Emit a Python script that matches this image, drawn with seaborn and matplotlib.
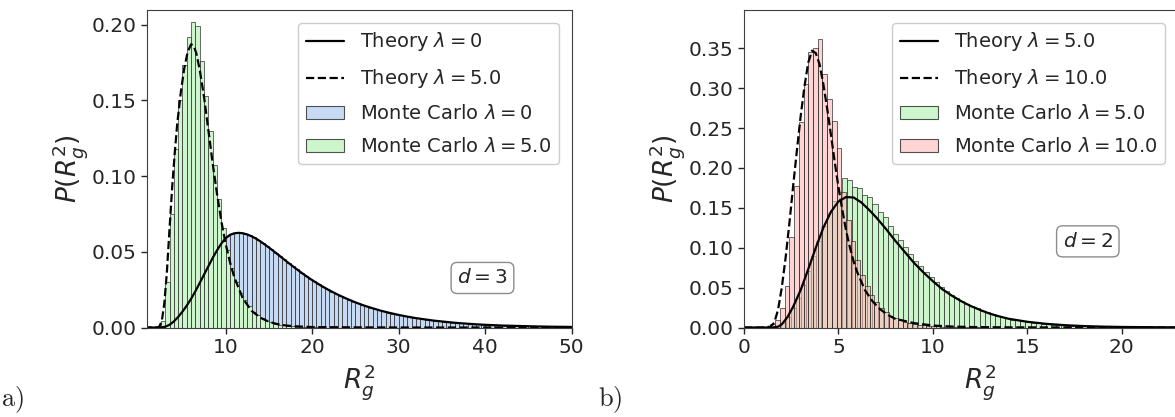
import numpy as np
import seaborn as sns
import matplotlib.pyplot as plt
from matplotlib.lines import Line2D
from matplotlib.patches import Patch

# ---- panel a (d = 3) ----
a_bin_start = 2.5
a_bin_width = 0.5
# Monte Carlo lambda = 0 (blue), bins of 0.5 from 2.5
mc_a_lam0 = [0.0003, 0.001, 0.003, 0.0055, 0.0088, 0.0125, 0.0168, 0.0215, 0.0268, 0.0322,
             0.0378, 0.0432, 0.0485, 0.0533, 0.0573, 0.0602, 0.0618, 0.0625, 0.0624, 0.0618,
             0.0608, 0.0595, 0.0578, 0.0559, 0.0538, 0.0517, 0.0495, 0.0472, 0.0450, 0.0427,
             0.0405, 0.0383, 0.0362, 0.0342, 0.0322, 0.0304, 0.0286, 0.0268, 0.0252, 0.0237,
             0.0222, 0.0208, 0.0195, 0.0183, 0.0171, 0.0160, 0.0150, 0.0140, 0.0131, 0.0122,
             0.0114, 0.0106, 0.0099, 0.0092, 0.0086, 0.0080, 0.0075, 0.0069, 0.0064, 0.0060,
             0.0056, 0.0052, 0.0048, 0.0045, 0.0042, 0.0039, 0.0036, 0.0033, 0.0031, 0.0029,
             0.0027, 0.0025, 0.0023, 0.0021, 0.0019, 0.0018, 0.0017, 0.0015, 0.0014, 0.0013,
             0.0012, 0.0011, 0.0010, 0.0010, 0.0009, 0.0008, 0.0008, 0.0007, 0.0007, 0.0006,
             0.0006, 0.0005, 0.0005, 0.0005, 0.0004]
# Monte Carlo lambda = 5 (green), same bins
mc_a_lam5 = [0.004, 0.030, 0.075, 0.118, 0.150, 0.173, 0.192, 0.2015, 0.199, 0.176,
             0.153, 0.130, 0.107, 0.085, 0.066, 0.051, 0.039, 0.030, 0.023, 0.018,
             0.014, 0.0105, 0.008, 0.006, 0.0045, 0.0034, 0.0025, 0.0019, 0.0014, 0.001,
             0.0008, 0.0006, 0.0004, 0.0003, 0.0002, 0.0002, 0.0001, 0.0001]

theory_a_lam0_x = [0.5, 2.0, 2.5, 3.0, 3.5, 4.0, 4.5, 5.0, 5.5, 6.0, 6.5, 7.0, 7.5, 8.0, 8.5, 9.0,
                   9.5, 10.0, 10.5, 11.0, 11.5, 12.0, 12.5, 13.0, 13.5, 14.0, 14.5, 15.0, 15.5,
                   16.0, 16.5, 17.0, 17.5, 18.0, 18.5, 19.0, 19.5, 20.0, 21, 22, 23, 24, 25, 26,
                   27, 28, 29, 30, 31, 32, 33, 34, 35, 36, 37, 38, 39, 40, 42, 44, 46, 48, 50]
theory_a_lam0_y = [0.0, 0.0, 0.0001, 0.0005, 0.0018, 0.004, 0.007, 0.0105, 0.0145, 0.019, 0.024,
                   0.0295, 0.035, 0.0405, 0.046, 0.051, 0.0555, 0.059, 0.0612, 0.0622, 0.0625,
                   0.0622, 0.0614, 0.0602, 0.0587, 0.0569, 0.0549, 0.0528, 0.0506, 0.0484, 0.0461,
                   0.0438, 0.0416, 0.0394, 0.0373, 0.0352, 0.0332, 0.0313, 0.0277, 0.0245, 0.0216,
                   0.0190, 0.0166, 0.0145, 0.0127, 0.0110, 0.0096, 0.0083, 0.0072, 0.0062, 0.0054,
                   0.0046, 0.0040, 0.0034, 0.0029, 0.0025, 0.0021, 0.0018, 0.0013, 0.0010, 0.0007,
                   0.0005, 0.0004]
theory_a_lam5_x = [0.5, 2.0, 2.3, 2.6, 2.9, 3.2, 3.5, 3.8, 4.1, 4.4, 4.8, 5.2, 5.6, 6.0, 6.3, 6.6,
                   7.0, 7.5, 8.0, 8.5, 9.0, 9.5, 10.0, 10.5, 11, 12, 13, 14, 15, 16, 17, 18, 20,
                   25, 30, 50]
theory_a_lam5_y = [0.0, 0.0, 0.0005, 0.004, 0.016, 0.037, 0.065, 0.092, 0.115, 0.135, 0.155,
                   0.171, 0.182, 0.187, 0.186, 0.181, 0.170, 0.152, 0.130, 0.108, 0.088, 0.070,
                   0.055, 0.043, 0.033, 0.019, 0.011, 0.0065, 0.0038, 0.0022, 0.0013, 0.0008,
                   0.0003, 0.0001, 0.0, 0.0]

# ---- panel b (d = 2) ----
b_green_start = 1.40
b_green_width = 0.27
mc_b_lam5 = [0.0008, 0.002, 0.006, 0.013, 0.024, 0.037, 0.053, 0.071, 0.090, 0.109,
             0.127, 0.144, 0.158, 0.170, 0.187, 0.185, 0.176, 0.175, 0.166, 0.164,
             0.155, 0.145, 0.138, 0.127, 0.117, 0.110, 0.101, 0.092, 0.084, 0.077,
             0.070, 0.063, 0.057, 0.051, 0.046, 0.041, 0.037, 0.033, 0.030, 0.027,
             0.024, 0.021, 0.019, 0.0165, 0.0146, 0.0128, 0.0113, 0.0100, 0.0088, 0.0077,
             0.0068, 0.0060, 0.0052, 0.0046, 0.0040, 0.0035, 0.0031, 0.0027, 0.0023, 0.0020,
             0.0018, 0.0016, 0.0014, 0.0012, 0.0010, 0.0009, 0.0008, 0.0007, 0.0006, 0.0005,
             0.0005, 0.0004, 0.0004, 0.0003, 0.0003, 0.0002, 0.0002, 0.0002, 0.0001, 0.0001,
             0.0001]
b_pink_start = 1.40
b_pink_width = 0.25
mc_b_lam10 = [0.004, 0.010, 0.025, 0.052, 0.113, 0.178, 0.258, 0.305, 0.345, 0.351,
              0.362, 0.318, 0.286, 0.259, 0.225, 0.170, 0.135, 0.108, 0.085, 0.066,
              0.052, 0.041, 0.032, 0.025, 0.019, 0.015, 0.012, 0.0092, 0.0072, 0.0056,
              0.0044, 0.0034, 0.0027, 0.0021, 0.0016, 0.0013, 0.0010, 0.0008, 0.0006, 0.0005,
              0.0004, 0.0003, 0.0002, 0.0002, 0.0001]

theory_b_lam5_x = [0.0, 1.5, 1.8, 2.0, 2.3, 2.6, 3.0, 3.4, 3.8, 4.2, 4.6, 5.0, 5.4, 5.8, 6.2, 6.6,
                   7.0, 7.5, 8.0, 8.5, 9.0, 9.5, 10.0, 10.5, 11.0, 11.5, 12.0, 12.5, 13.0, 13.5,
                   14, 15, 16, 17, 18, 19, 20, 22, 24, 25]
theory_b_lam5_y = [0.0, 0.0, 0.001, 0.004, 0.013, 0.026, 0.047, 0.073, 0.100, 0.125, 0.145,
                   0.158, 0.1635, 0.163, 0.157, 0.148, 0.138, 0.124, 0.109, 0.095, 0.081, 0.069,
                   0.058, 0.048, 0.040, 0.033, 0.027, 0.022, 0.0175, 0.014, 0.011, 0.0072,
                   0.0046, 0.0029, 0.0018, 0.0011, 0.0007, 0.0003, 0.0001, 0.0001]
theory_b_lam10_x = [0.0, 1.0, 1.4, 1.6, 1.8, 2.0, 2.2, 2.4, 2.6, 2.8, 3.0, 3.2, 3.4, 3.6, 3.8,
                    4.0, 4.2, 4.4, 4.6, 4.8, 5.0, 5.2, 5.4, 5.6, 5.8, 6.0, 6.4, 6.8, 7.2, 7.6,
                    8.0, 9, 10, 11, 12, 14, 16, 20, 25]
theory_b_lam10_y = [0.0, 0.0, 0.001, 0.006, 0.022, 0.05, 0.087, 0.13, 0.177, 0.222, 0.265,
                    0.302, 0.332, 0.347, 0.344, 0.330, 0.305, 0.275, 0.242, 0.208, 0.176, 0.148,
                    0.122, 0.101, 0.083, 0.069, 0.047, 0.033, 0.023, 0.016, 0.011, 0.0055,
                    0.0025, 0.0012, 0.0006, 0.0002, 0.0001, 0.0, 0.0]

blue = '#c6dbf3'
green = '#cdf6cd'
pink = (1.0, 0.72, 0.72, 0.6)
edge = (0.1, 0.1, 0.1, 0.75)


def mc_hist(ax, heights, start, width, face):
    heights = np.asarray(heights)
    edges = start + width * np.arange(len(heights) + 1)
    centers = (edges[:-1] + edges[1:]) / 2
    sns.histplot(x=centers, weights=heights, bins=edges.tolist(), stat='count', ax=ax,
                 facecolor=face, edgecolor=edge, linewidth=0.6)


def decorate(ax, labels, colors, dtext, dpos, anchor):
    handles = [Line2D([], [], color='k', lw=1.6),
               Line2D([], [], color='k', lw=1.6, ls='--'),
               Patch(facecolor=colors[0], edgecolor=edge, linewidth=0.8),
               Patch(facecolor=colors[1], edgecolor=edge, linewidth=0.8)]
    ax.legend(handles, labels, loc='upper right', fontsize=14, framealpha=1,
              labelspacing=0.72, borderaxespad=0.65,
              bbox_to_anchor=anchor, bbox_transform=fig.transFigure)
    ax.text(dpos[0], dpos[1], dtext, fontsize=14.5, ha='center', va='center',
            bbox=dict(boxstyle='round,pad=0.3', fc='white', ec='0.55', lw=1.0))
    ax.set_xlabel(r'$R_g^2$', fontsize=19)
    ax.set_ylabel(r'$P(R_g^2)$', fontsize=19, labelpad=1)
    ax.tick_params(labelsize=14.5, length=4, width=1)


sns.set_style('ticks')
plt.rcParams['axes.edgecolor'] = '0.25'

fig = plt.figure(figsize=(11.75, 4.17), dpi=100)
ax1 = fig.add_axes([146.7 / 1175, 0.2146, (571.5 - 146.7) / 1175, 0.7614])
ax2 = fig.add_axes([744 / 1175, 0.2146, 25 * 18.89 / 1175, 0.7614])

# panel a
mc_hist(ax1, mc_a_lam0, a_bin_start, a_bin_width, blue)
mc_hist(ax1, mc_a_lam5, a_bin_start, a_bin_width, green)
sns.lineplot(x=theory_a_lam0_x, y=theory_a_lam0_y, ax=ax1, color='k', lw=1.6)
sns.lineplot(x=theory_a_lam5_x, y=theory_a_lam5_y, ax=ax1, color='k', lw=1.6, ls='--')
ax1.set_xlim(0.86, 50)
ax1.set_ylim(0, 0.2096)
ax1.set_xticks([10, 20, 30, 40, 50])
ax1.set_yticks([0.0, 0.05, 0.10, 0.15, 0.20])
ax1.set_yticklabels(['0.00', '0.05', '0.10', '0.15', '0.20'])
decorate(ax1, [r'Theory $\lambda = 0$', r'Theory $\lambda = 5.0$',
               r'Monte Carlo $\lambda = 0$', r'Monte Carlo $\lambda = 5.0$'],
         [blue, green], r'$d = 3$', (39.7, 0.0327),
         (571.5 / 1175, 1 - 10 / 417))

# panel b (its right part runs past the edge of the figure)
mc_hist(ax2, mc_b_lam5, b_green_start, b_green_width, green)
mc_hist(ax2, mc_b_lam10, b_pink_start, b_pink_width, pink)
sns.lineplot(x=theory_b_lam5_x, y=theory_b_lam5_y, ax=ax2, color='k', lw=1.6)
sns.lineplot(x=theory_b_lam10_x, y=theory_b_lam10_y, ax=ax2, color='k', lw=1.6, ls='--')
ax2.set_xlim(0, 25)
ax2.set_ylim(0, 0.398)
ax2.set_xticks([0, 5, 10, 15, 20])
ax2.set_yticks([0.0, 0.05, 0.10, 0.15, 0.20, 0.25, 0.30, 0.35])
ax2.set_yticklabels(['0.00', '0.05', '0.10', '0.15', '0.20', '0.25', '0.30', '0.35'])
decorate(ax2, [r'Theory $\lambda = 5.0$', r'Theory $\lambda = 10.0$',
               r'Monte Carlo $\lambda = 5.0$', r'Monte Carlo $\lambda = 10.0$'],
         [green, pink], r'$d = 2$', (18.2, 0.108),
         (1178 / 1175, 1 - 10 / 417))

fig.text(0.001, 0.025, r'$\mathrm{a)}$', fontsize=19, math_fontfamily='cm')
fig.text(598 / 1175, 0.025, r'$\mathrm{b)}$', fontsize=19, math_fontfamily='cm')

fig.savefig('out.png', dpi=100)
